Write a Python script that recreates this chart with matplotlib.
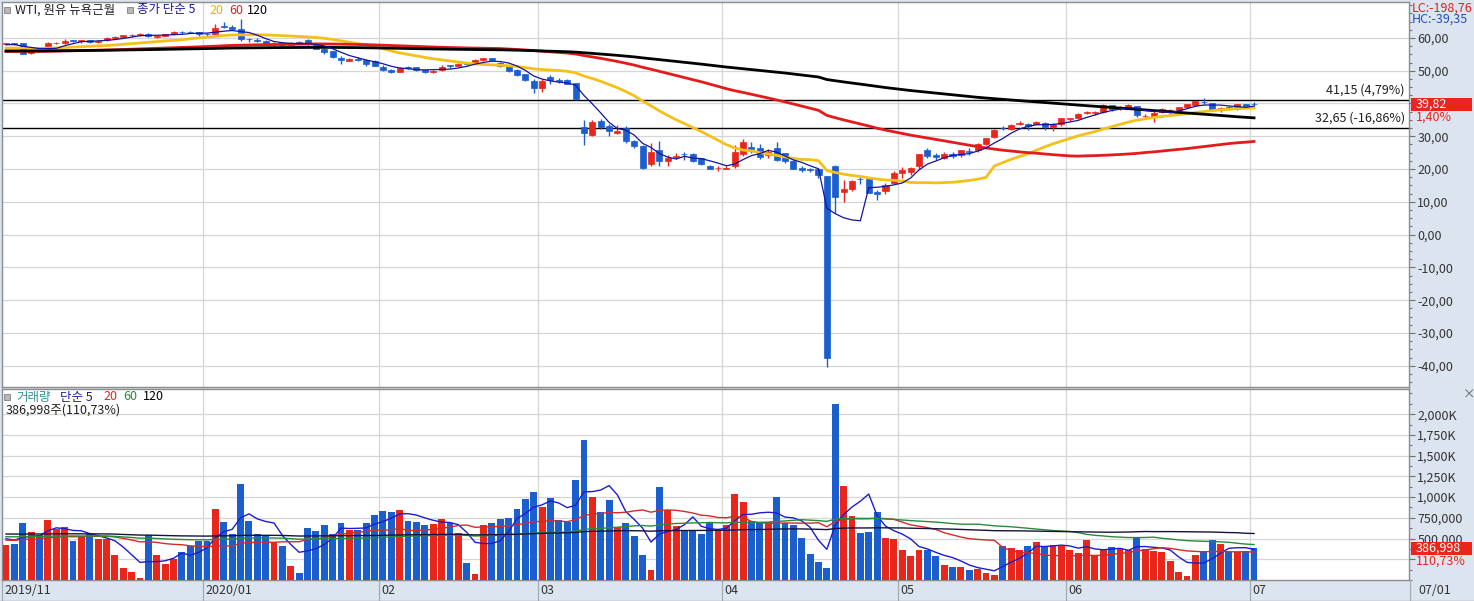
import logging
import numpy as np
import matplotlib
matplotlib.use('Agg')
import matplotlib.pyplot as plt
from matplotlib.ticker import FixedLocator, FuncFormatter, MultipleLocator
from matplotlib.transforms import blended_transform_factory
from matplotlib.patches import Rectangle

logging.getLogger('matplotlib.font_manager').setLevel(logging.ERROR)
FONT = ['Liberation Sans Narrow', 'Noto Sans CJK KR', 'DejaVu Sans']
plt.rcParams['font.family'] = FONT

# ---------------- data ----------------
month_starts = [0, 24, 45, 64, 86, 107, 127, 149]
month_labels = ['2019/11', '2020/01', '02', '03', '04', '05', '06', '07']
last_date_label = '07/01'

opens = [58.0, 58.4, 58.3, 55.4, 56.3, 56.1, 58.3, 58.4, 59.3, 59.0,
         59.3, 58.8, 59.3, 60.0, 60.3, 60.8, 60.9, 61.3, 60.3, 60.6,
         61.1, 61.8, 61.8, 61.7, 61.3, 61.2, 63.7, 63.3, 62.8, 59.7,
         59.5, 59.1, 58.0, 58.3, 57.9, 58.7, 59.5, 58.4, 56.6, 55.9,
         53.9, 53.0, 53.6, 53.4, 53.0, 51.2, 50.1, 49.6, 51.1, 51.0,
         50.2, 49.7, 50.1, 51.6, 51.5, 52.2, 52.1, 53.3, 53.8, 52.5,
         51.6, 50.3, 48.9, 46.9, 44.8, 48.0, 47.3, 47.3, 46.3, 32.9,
         30.4, 34.6, 33.2, 31.0, 32.5, 28.6, 27.0, 21.5, 25.9, 22.6,
         23.6, 24.7, 24.5, 23.3, 21.0, 20.3, 20.1, 21.0, 24.5, 26.6,
         26.3, 24.4, 26.3, 24.8, 22.5, 20.3, 20.1, 20.0, 17.9, 21.0,
         13.0, 13.9, 17.0, 16.9, 12.9, 13.2, 15.7, 18.7, 19.0, 20.9,
         25.8, 24.3, 23.5, 24.5, 24.3, 25.6, 25.7, 27.6, 29.7, 32.6,
         32.1, 33.8, 33.9, 33.9, 34.2, 32.8, 33.7, 35.3, 35.6, 37.1,
         37.2, 37.3, 39.5, 38.6, 38.4, 39.1, 36.1, 35.8, 37.4, 37.9,
         37.9, 39.0, 39.5, 40.6, 40.1, 38.0, 38.8, 38.3, 39.7, 39.9]
highs = [58.6, 58.6, 58.4, 56.4, 56.6, 58.8, 58.9, 59.8, 59.5, 59.4,
         59.5, 59.5, 60.3, 60.5, 61.0, 61.2, 61.4, 61.6, 60.7, 61.2,
         62.0, 62.0, 62.0, 61.9, 61.6, 64.1, 64.7, 63.8, 65.65, 60.1,
         59.9, 59.3, 58.7, 58.5, 58.8, 59.0, 59.7, 58.6, 57.0, 56.0,
         54.4, 54.0, 54.3, 53.6, 53.2, 51.7, 50.6, 51.1, 51.3, 51.2,
         50.5, 50.3, 51.7, 51.8, 52.2, 52.5, 53.5, 54.0, 53.9, 52.7,
         51.8, 50.5, 49.0, 47.4, 47.4, 48.7, 47.8, 47.5, 46.4, 34.9,
         34.9, 35.3, 33.8, 33.3, 33.0, 29.0, 27.3, 28.0, 28.5, 24.3,
         24.8, 25.2, 24.9, 23.5, 21.3, 21.0, 21.0, 27.4, 29.1, 28.2,
         27.5, 26.0, 28.4, 25.0, 22.7, 20.8, 20.3, 20.4, 17.9, 21.3,
         16.7, 16.7, 17.6, 17.2, 13.5, 15.7, 19.3, 20.5, 20.5, 24.7,
         26.4, 24.8, 25.2, 25.2, 25.9, 26.3, 27.9, 29.5, 32.3, 33.0,
         33.9, 34.7, 34.0, 34.8, 34.5, 34.0, 35.5, 35.7, 37.1, 37.7,
         37.7, 39.9, 39.6, 39.1, 39.7, 39.2, 36.8, 38.0, 38.7, 38.4,
         38.9, 39.9, 40.9, 41.6, 40.2, 38.8, 39.2, 39.8, 39.8, 40.4]
lows = [57.8, 57.9, 55.0, 55.2, 55.7, 56.0, 58.0, 58.2, 58.7, 58.6,
        58.6, 58.4, 59.1, 59.8, 60.1, 60.4, 60.6, 60.2, 60.1, 60.5,
        61.0, 61.3, 61.4, 60.6, 60.6, 61.0, 62.9, 62.3, 59.1, 58.7,
        58.9, 57.9, 57.6, 57.4, 57.7, 58.3, 57.8, 56.6, 55.1, 53.9,
        52.1, 52.9, 53.0, 51.3, 51.3, 49.9, 49.3, 49.5, 50.4, 50.0,
        49.3, 49.4, 49.8, 50.8, 51.3, 51.6, 52.0, 52.9, 52.9, 51.0,
        49.6, 48.4, 46.8, 43.3, 43.6, 45.9, 46.1, 45.8, 41.1, 27.3,
        30.1, 32.1, 30.0, 30.7, 28.0, 26.3, 20.1, 20.8, 21.0, 21.0,
        23.2, 22.9, 22.3, 21.3, 19.9, 19.3, 19.9, 20.4, 23.9, 24.9,
        23.2, 23.4, 22.6, 21.9, 19.9, 19.2, 19.2, 17.3, -40.32, 6.5,
        9.9, 13.4, 15.6, 12.6, 10.6, 12.3, 15.5, 17.3, 18.1, 20.1,
        23.5, 22.9, 23.0, 23.4, 23.8, 24.4, 25.2, 27.2, 29.6, 31.9,
        31.9, 33.3, 32.0, 33.6, 32.0, 31.7, 33.2, 34.8, 35.3, 36.9,
        36.5, 37.0, 37.6, 37.9, 38.2, 35.8, 35.2, 34.4, 37.0, 37.2,
        37.4, 38.6, 39.2, 39.9, 37.8, 37.5, 37.9, 38.1, 39.0, 39.2]
closes = [58.41, 58.11, 55.17, 55.96, 56.10, 58.43, 58.43, 59.20, 59.02, 59.24,
          58.76, 59.18, 60.07, 60.21, 60.94, 60.93, 61.22, 60.44, 60.52, 61.11,
          61.68, 61.72, 61.68, 61.06, 61.18, 63.05, 63.27, 62.70, 59.61, 59.56,
          59.04, 58.08, 58.23, 57.81, 58.52, 58.54, 58.38, 56.74, 55.59, 54.19,
          53.14, 53.48, 53.33, 52.14, 51.56, 50.11, 49.61, 50.75, 50.95, 50.32,
          49.57, 49.94, 51.17, 51.42, 52.05, 52.05, 53.29, 53.78, 53.38, 51.43,
          49.90, 48.73, 47.09, 44.76, 46.75, 47.18, 46.78, 45.90, 41.28, 31.13,
          34.36, 32.98, 31.50, 31.73, 28.70, 26.95, 20.37, 25.22, 22.43, 23.36,
          24.01, 24.49, 22.60, 21.51, 20.09, 20.48, 20.31, 25.32, 28.34, 26.08,
          23.63, 25.09, 22.76, 22.41, 20.11, 19.87, 19.87, 18.27, -37.63, 11.57,
          13.78, 16.50, 16.94, 12.78, 12.34, 15.06, 18.84, 19.78, 20.39, 24.56,
          23.99, 23.55, 24.74, 24.14, 25.78, 25.29, 27.56, 29.43, 31.82, 32.50,
          33.49, 33.92, 33.25, 34.35, 32.81, 33.71, 35.49, 35.44, 36.81, 37.29,
          37.41, 39.55, 38.19, 38.94, 39.60, 36.34, 36.26, 37.12, 38.38, 37.96,
          38.84, 39.75, 40.73, 40.37, 38.01, 38.72, 38.49, 39.70, 39.27, 39.82]
volumes = [423000, 435000, 685000, 580000, 544000, 725000, 612000, 637000, 471000, 524000,
           552000, 492000, 496000, 302000, 141000, 97000, 28000, 540000, 302000, 193000,
           250000, 339000, 411000, 471000, 471000, 858000, 701000, 556000, 1161000, 713000,
           556000, 544000, 463000, 411000, 169000, 85000, 629000, 592000, 665000, 556000,
           689000, 604000, 604000, 689000, 786000, 834000, 822000, 846000, 713000, 701000,
           665000, 677000, 737000, 689000, 568000, 206000, 73000, 665000, 689000, 737000,
           750000, 858000, 979000, 1064000, 883000, 991000, 725000, 701000, 1209000, 1693000,
           1003000, 822000, 967000, 641000, 689000, 532000, 302000, 121000, 1124000, 846000,
           653000, 592000, 592000, 560000, 701000, 604000, 665000, 1040000, 943000, 713000,
           689000, 701000, 1003000, 689000, 665000, 508000, 314000, 218000, 145000, 2128000,
           1136000, 774000, 568000, 580000, 822000, 508000, 496000, 363000, 290000, 363000,
           363000, 290000, 181000, 157000, 157000, 121000, 133000, 85000, 60000, 411000,
           387000, 363000, 411000, 459000, 399000, 423000, 411000, 363000, 326000, 484000,
           290000, 363000, 399000, 375000, 363000, 508000, 375000, 351000, 339000, 230000,
           97000, 48000, 302000, 351000, 484000, 435000, 339000, 339000, 349500, 386998]

ma_periods = [5, 20, 60, 120]
# starting levels of the moving-average lines (left edge)
price_ma_seed = [57.8, 56.8, 55.8, 56.0]
volume_ma_seed = [516000, 484000, 524000, 556000]
ref_levels = [41.15, 32.65]
lc_text = 'LC:-198,76'
hc_text = 'HC:-39,35'

# ---------------- styles ----------------
W, H = 1474, 601
RED = '#e8261c'
BLUE = '#1b5fcf'
PRICE_MA_COLORS = ['#14149c', '#f3c11a', '#e41b1b', '#000000']
PRICE_MA_LW = [0.9, 2.0, 2.0, 2.0]
VOL_MA_COLORS = ['#1c1cd0', '#d42a2a', '#2a8a3c', '#14143c']
GRID = '#d6d6d6'
BAND = '#dce4ef'
TXT = '#333333'


def seeded_ma(values, n, seed):
    out = []
    for i in range(len(values)):
        w = values[max(0, i - n + 1):i + 1]
        out.append((sum(w) + seed * (n - len(w))) / n)
    return np.array(out)


def comma(v, d=2):
    return f'{v:,.{d}f}'.replace(',', '_').replace('.', ',').replace('_', ',')


o = np.array(opens); h = np.array(highs); l = np.array(lows); c = np.array(closes)
v = np.array(volumes, dtype=float)
n = len(c)
x = np.arange(n)
up = c >= o
cols = np.where(up, RED, BLUE)

fig = plt.figure(figsize=(W / 100, H / 100), dpi=100, facecolor=BAND)
ax1 = fig.add_axes([2 / W, (H - 387) / H, 1407 / W, 385 / H])
ax2 = fig.add_axes([2 / W, (H - 580) / H, 1407 / W, 191 / H])
xlim = (-0.478, 167.5)

for ax in (ax1, ax2):
    ax.set_facecolor('white')
    ax.set_xlim(*xlim)
    for s in ax.spines.values():
        s.set_color('#8c8c8c')
        s.set_linewidth(1)
    ax.yaxis.tick_right()
    ax.tick_params(axis='y', which='major', direction='out', length=4, width=0.8,
                   color='#707070', labelsize=9, labelcolor=TXT, pad=2)
    ax.tick_params(axis='y', which='minor', direction='out', length=2, width=0.8, color='#707070')
    ax.tick_params(axis='x', bottom=False, labelbottom=False)
    for b in month_starts[1:]:
        ax.axvline(b - 0.5, color=GRID, lw=0.9, zorder=0)

# ---------------- price panel ----------------
ax1.set_ylim(-46.45, 70.95)
ax1.yaxis.set_major_locator(FixedLocator(np.arange(-40, 61, 10)))
ax1.yaxis.set_minor_locator(MultipleLocator(2.5))
ax1.yaxis.set_major_formatter(FuncFormatter(lambda val, p: comma(val)))
ax1.grid(axis='y', which='major', color=GRID, lw=0.9, zorder=0)

ax1.vlines(x, l, h, colors=cols, lw=1.0, zorder=3)
body = np.maximum(np.abs(c - o), 0.1)
ax1.bar(x, body, bottom=np.minimum(o, c), width=0.72, color=cols, edgecolor=cols,
        linewidth=0.5, zorder=4)

for p, s, col, lw in zip(ma_periods, price_ma_seed, PRICE_MA_COLORS, PRICE_MA_LW):
    ax1.plot(x, seeded_ma(closes, p, s), color=col, lw=lw, zorder=5 if p == 5 else 4.5,
             solid_joinstyle='round')

prev_close = closes[-2]
bt = blended_transform_factory(ax1.transAxes, ax1.transData)
for lev in ref_levels:
    ax1.axhline(lev, color='black', lw=1.0, zorder=2)
    pct = (lev / prev_close - 1) * 100
    ax1.annotate(f'{comma(lev)} ({comma(pct)}%)', xy=(0.997, lev), xycoords=bt,
                 xytext=(0, 2.5), textcoords='offset points', ha='right', va='bottom',
                 fontsize=9, color='#202020', zorder=6)

# ---------------- volume panel ----------------
ax2.set_ylim(0, 2304000)
ax2.yaxis.set_major_locator(FixedLocator(np.arange(250000, 2000001, 250000)))
ax2.yaxis.set_minor_locator(MultipleLocator(125000))


def vfmt(val, p):
    if val < 400000:
        return ''
    if val >= 1000000:
        return f'{val / 1000:,.0f}K'
    return f'{val:,.0f}'


ax2.yaxis.set_major_formatter(FuncFormatter(vfmt))
ax2.grid(axis='y', which='major', color=GRID, lw=0.9, zorder=0)
ax2.bar(x, v, width=0.82, color=cols, linewidth=0, zorder=3)
for p, s, col in zip(ma_periods, volume_ma_seed, VOL_MA_COLORS):
    ax2.plot(x, seeded_ma(volumes, p, s), color=col, lw=1.0, zorder=4)

# x-axis band labels
bx = blended_transform_factory(ax2.transData, ax2.transAxes)
for b, lab in zip(month_starts, month_labels):
    xb = max(b - 0.5, xlim[0])
    ax2.plot([xb, xb], [0, -21 / 191], transform=bx, color='#a4acb8', lw=0.9, clip_on=False)
    ax2.text(xb + 0.3, -11 / 191, lab, transform=bx, ha='left', va='center', fontsize=9,
             color=TXT, clip_on=False)

fig.lines.append(plt.Line2D([0, 1], [0.5 / H, 0.5 / H], transform=fig.transFigure,
                            color='#a0a0a0', lw=1))
fig.lines.append(plt.Line2D([1410 / W, 1410 / W], [0, 21 / H], transform=fig.transFigure,
                            color='#a4acb8', lw=0.9))
fig.text(1418 / W, (H - 591) / H, last_date_label, fontsize=9, color=TXT,
         va='center', ha='left')

# ---------------- header texts ----------------
def ftext(px, py, s, color, **kw):
    return fig.text(px / W, (H - py) / H, s, color=color, fontsize=9, va='center',
                    ha='left', **kw)


def icon(px, py):
    fig.patches.append(Rectangle((px / W, (H - py - 3) / H), 6 / W, 6 / H,
                                 transform=fig.transFigure, facecolor='#b8b8b8',
                                 edgecolor='#808080', lw=0.6, zorder=10))


icon(4, 10)
ftext(15, 10, 'WTI, 원유 뉴욕근월', '#202020')
icon(127, 10)
ftext(137, 10, '종가 단순 5', '#1a1a9a')
ftext(209, 10, '20', '#e8b400')
ftext(229, 10, '60', '#e02020')
ftext(247, 10, '120', '#000000')

icon(4, 397)
ftext(16, 397, '거래량', '#3a8c96')
ftext(60, 397, '단순 5', '#1a1a9a')
ftext(103, 397, '20', '#d42a2a')
ftext(123, 397, '60', '#2a8a3c')
ftext(143, 397, '120', '#000000')
vol_ratio = volumes[-1] / volumes[-2] * 100
ftext(6, 410, f'{volumes[-1]:,}주({comma(vol_ratio)}%)', '#202020')

ftext(1412, 8, lc_text, '#e02020')
ftext(1412, 19, hc_text, '#2050c0')
ftext(1463, 395, '×', '#606060')

# ---------------- current value boxes on the right axis ----------------
fig.canvas.draw()


def value_box(ax, val, label, sub, subcolor):
    yp = ax.transData.transform((0, val))[1]
    fig.patches.append(Rectangle((1411 / W, (yp - 7) / H), 61 / W, 13 / H,
                                 transform=fig.transFigure, facecolor=RED,
                                 edgecolor='none', zorder=10))
    fig.text(1416 / W, yp / H, label, color='white', fontsize=9, va='center', ha='left',
             zorder=11)
    fig.text(1416 / W, (yp - 13) / H, sub, color=subcolor, fontsize=9, va='center',
             ha='left', zorder=11)


chg = (closes[-1] / closes[-2] - 1) * 100
value_box(ax1, closes[-1], comma(closes[-1]), f'{comma(chg)}%', RED)
value_box(ax2, volumes[-1], f'{volumes[-1]:,}', f'{comma(vol_ratio)}%', RED)

fig.savefig('out.png', dpi=100, facecolor=BAND)
